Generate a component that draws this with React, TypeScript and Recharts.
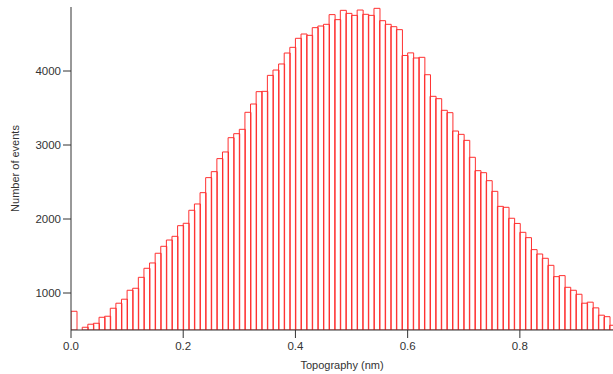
import { ComposedChart, Bar, XAxis, YAxis } from 'recharts';

// Histogram of topography heights, 0.01 nm bins, red outlined bars.

const BIN_CENTERS = [
  0.005, 0.015, 0.025, 0.035, 0.045, 0.055, 0.065, 0.075, 0.085, 0.095,
  0.105, 0.115, 0.125, 0.135, 0.145, 0.155, 0.165, 0.175, 0.185, 0.195,
  0.205, 0.215, 0.225, 0.235, 0.245, 0.255, 0.265, 0.275, 0.285, 0.295,
  0.305, 0.315, 0.325, 0.335, 0.345, 0.355, 0.365, 0.375, 0.385, 0.395,
  0.405, 0.415, 0.425, 0.435, 0.445, 0.455, 0.465, 0.475, 0.485, 0.495,
  0.505, 0.515, 0.525, 0.535, 0.545, 0.555, 0.565, 0.575, 0.585, 0.595,
  0.605, 0.615, 0.625, 0.635, 0.645, 0.655, 0.665, 0.675, 0.685, 0.695,
  0.705, 0.715, 0.725, 0.735, 0.745, 0.755, 0.765, 0.775, 0.785, 0.795,
  0.805, 0.815, 0.825, 0.835, 0.845, 0.855, 0.865, 0.875, 0.885, 0.895,
  0.905, 0.915, 0.925, 0.935, 0.945, 0.955, 0.965,
];

const EVENTS: (number | null)[] = [
  753, null, 537, 578, 591, 672, 686, 794, 862, 916,
  1037, 1064, 1212, 1334, 1406, 1537, 1631, 1716, 1766, 1910,
  1942, 2118, 2203, 2356, 2559, 2640, 2816, 2906, 3099, 3153,
  3212, 3442, 3554, 3721, 3725, 3941, 4013, 4095, 4243, 4320,
  4442, 4500, 4482, 4586, 4608, 4631, 4762, 4694, 4820, 4779,
  4752, 4824, 4766, 4752, 4847, 4680, 4631, 4599, 4559, 4210,
  4245, 4176, 4185, 3950, 3658, 3626, 3469, 3437, 3189, 3144,
  3063, 2834, 2653, 2626, 2518, 2374, 2171, 2158, 2010, 1940,
  1820, 1748, 1586, 1527, 1469, 1374, 1221, 1235, 1077, 1037,
  983, 862, 876, 799, 700, 680, 564,
];

const X_TICKS = [0, 0.2, 0.4, 0.6, 0.8];
const Y_TICKS = [1000, 2000, 3000, 4000];

const BAR_COLOR = '#ff3030';
const AXIS_COLOR = '#333333';
const FONT = 'Liberation Sans, Arial, sans-serif';

const data = BIN_CENTERS.map((x, i) => ({ x, events: EVENTS[i] }));

export default function App() {
  return (
    <div style={{ position: 'absolute', left: 0, top: 0, background: '#fff', fontFamily: FONT }}>
      <ComposedChart
        width={613}
        height={374}
        data={data}
        margin={{ top: 7, right: 0, bottom: 0, left: 0 }}
        barCategoryGap={0}
        barGap={0}
      >
        <XAxis
          dataKey="x"
          type="number"
          domain={[0, 0.966]}
          allowDataOverflow
          ticks={X_TICKS}
          tickFormatter={(v: number) => v.toFixed(1)}
          height={44}
          tickSize={8}
          tickMargin={4}
          stroke={AXIS_COLOR}
          tick={{ fontSize: 11.5, fill: AXIS_COLOR, fontFamily: FONT }}
          label={{
            value: 'Topography (nm)',
            position: 'insideBottom',
            offset: 5,
            style: { fontSize: 11, fill: AXIS_COLOR, fontFamily: FONT },
          }}
        />
        <YAxis
          type="number"
          domain={[500, 4865]}
          allowDataOverflow
          ticks={Y_TICKS}
          width={71}
          tickSize={8}
          stroke={AXIS_COLOR}
          tick={{ fontSize: 11.5, fill: AXIS_COLOR, fontFamily: FONT }}
          label={{
            value: 'Number of events',
            angle: -90,
            position: 'insideLeft',
            offset: 15,
            style: { fontSize: 11, fill: AXIS_COLOR, fontFamily: FONT, textAnchor: 'middle' },
          }}
        />
        <Bar
          dataKey="events"
          fill="none"
          stroke={BAR_COLOR}
          strokeWidth={1}
          isAnimationActive={false}
        />
      </ComposedChart>
    </div>
  );
}
